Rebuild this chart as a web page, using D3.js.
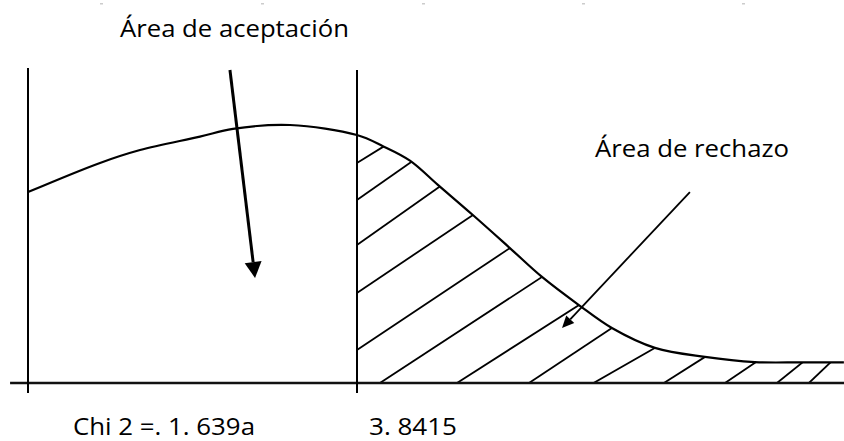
<!DOCTYPE html>
<html>
<head>
<meta charset="utf-8">
<script src="https://cdn.jsdelivr.net/npm/d3@7"></script>
<style>
  body { margin: 0; background: #fff; }
  text { font-family: "Open Sans", "Noto Sans", sans-serif; fill: #000; }
</style>
</head>
<body>
<div id="chart"></div>
<script>
// chi-square values marked on the axis
var chiObs = 1.639;
var chiCrit = 3.8415;

// curve (x in chi units, y = relative density)
var curveX = [1.639, 2.121, 2.389, 2.790, 3.011, 3.393, 3.841, 4.015, 4.196, 4.383, 4.617, 4.865, 5.080, 5.327, 5.548, 5.836, 6.171, 6.505, 6.820, 7.101];
var curveY = [0.740, 0.853, 0.903, 0.955, 0.985, 1.000, 0.961, 0.918, 0.862, 0.768, 0.651, 0.523, 0.411, 0.302, 0.213, 0.136, 0.101, 0.081, 0.080, 0.080];

// hatch strokes in the rejection area: start and end points
var hatchStart = [[3.841, 0.853], [3.841, 0.709], [3.841, 0.535], [3.841, 0.349], [3.841, 0.128],
                  [3.995, 0], [4.511, 0], [4.993, 0], [5.401, -0.008], [5.896, 0], [6.305, 0], [6.653, 0], [6.867, 0]];
var hatchEnd = [[4.015, 0.915], [4.196, 0.853], [4.383, 0.756], [4.617, 0.651], [4.865, 0.523],
                [5.080, 0.411], [5.327, 0.302], [5.548, 0.213], [5.836, 0.136], [6.171, 0.101], [6.505, 0.078], [6.820, 0.078], [7.008, 0.078]];

// pointer arrows: [from, to]
var arrows = [
  {from: [2.991, 1.213], to: [3.159, 0.407], big: true},
  {from: [6.070, 0.740], to: [5.214, 0.213], big: false}
];

var labels = ["Área de aceptación", "Área de rechazo", "Chi 2 =. 1. 639a", "3. 8415"];

var svgWidth = 844;
var svgHeight = 441;

var svg = d3.select("#chart")
    .append("svg")
    .attr("width", svgWidth)
    .attr("height", svgHeight);

// scales: 1.639 sits on the left line, 3.8415 on the middle one
var x = d3.scaleLinear()
    .domain([chiObs, chiCrit])
    .range([28, 357]);

var y = d3.scaleLinear()
    .domain([0, 1])
    .range([383, 125]);

var pts = curveX.map(function(d, i) { return [d, curveY[i]]; });
var smooth = d3.curveCatmullRom.alpha(0.5);

// ruler specks from the source document
svg.selectAll(".speck")
    .data([100, 261, 422, 582, 742])
    .enter()
    .append("rect")
    .attr("x", d => d)
    .attr("y", 3)
    .attr("width", 3)
    .attr("height", 1.5)
    .attr("fill", "#ccc");

// clip for hatching = area under the curve right of the critical value
var area = d3.area()
    .x(d => x(d[0]))
    .y0(y(0))
    .y1(d => y(d[1]))
    .curve(smooth);

svg.append("clipPath")
    .attr("id", "reject")
    .append("path")
    .attr("d", area(pts.filter(d => d[0] >= 3.84)));

var hatchG = svg.append("g").attr("clip-path", "url(#reject)");
hatchStart.forEach(function(s, i) {
    var e = hatchEnd[i];
    var x0 = x(s[0]), y0 = y(s[1]), x1 = x(e[0]), y1 = y(e[1]);
    // run a bit past the curve, the clip trims it
    hatchG.append("line")
        .attr("x1", x0)
        .attr("y1", y0)
        .attr("x2", x0 + (x1 - x0) * 1.3)
        .attr("y2", y0 + (y1 - y0) * 1.3)
        .attr("stroke", "#000")
        .attr("stroke-width", 1.8);
});

// baseline
svg.append("line")
    .attr("x1", x(1.519))
    .attr("x2", svgWidth)
    .attr("y1", y(0))
    .attr("y2", y(0))
    .attr("stroke", "#111")
    .attr("stroke-width", 2.4);

// vertical markers
svg.selectAll(".marker")
    .data([[chiObs, 1.221], [chiCrit, 1.213]])
    .enter()
    .append("line")
    .attr("x1", d => x(d[0]))
    .attr("x2", d => x(d[0]))
    .attr("y1", d => y(d[1]))
    .attr("y2", y(-0.039))
    .attr("stroke", "#000")
    .attr("stroke-width", 2);

// the curve
var line = d3.line()
    .x(d => x(d[0]))
    .y(d => y(d[1]))
    .curve(smooth);

svg.append("path")
    .attr("d", line(pts))
    .attr("fill", "none")
    .attr("stroke", "#000")
    .attr("stroke-width", 2.2);

// arrows
arrows.forEach(function(a) {
    var x0 = x(a.from[0]), y0 = y(a.from[1]);
    var x1 = x(a.to[0]), y1 = y(a.to[1]);
    var len = Math.hypot(x1 - x0, y1 - y0);
    var ux = (x1 - x0) / len, uy = (y1 - y0) / len;
    var headL = a.big ? 16 : 12;
    var headW = a.big ? 8.5 : 5.5;
    var bx = x1 - ux * headL, by = y1 - uy * headL;
    svg.append("line")
        .attr("x1", x0)
        .attr("y1", y0)
        .attr("x2", bx)
        .attr("y2", by)
        .attr("stroke", "#000")
        .attr("stroke-width", a.big ? 3 : 1.8);
    svg.append("path")
        .attr("d", "M" + x1 + "," + y1 +
                   "L" + (bx - uy * headW) + "," + (by + ux * headW) +
                   "L" + (bx + uy * headW) + "," + (by - ux * headW) + "Z")
        .attr("fill", "#000");
});

// labels
var labelPos = [
    {x: 120, y: 37, w: 229},
    {x: 595, y: 157, w: 194},
    {x: x(chiObs) + 45, y: 435, w: 182},
    {x: x(chiCrit) + 12, y: 435, w: 88}
];

svg.selectAll(".lbl")
    .data(labels)
    .enter()
    .append("text")
    .attr("x", (d, i) => labelPos[i].x)
    .attr("y", (d, i) => labelPos[i].y)
    .attr("textLength", (d, i) => labelPos[i].w)
    .attr("lengthAdjust", "spacingAndGlyphs")
    .style("font-size", "23px")
    .text(d => d);
</script>
</body>
</html>
